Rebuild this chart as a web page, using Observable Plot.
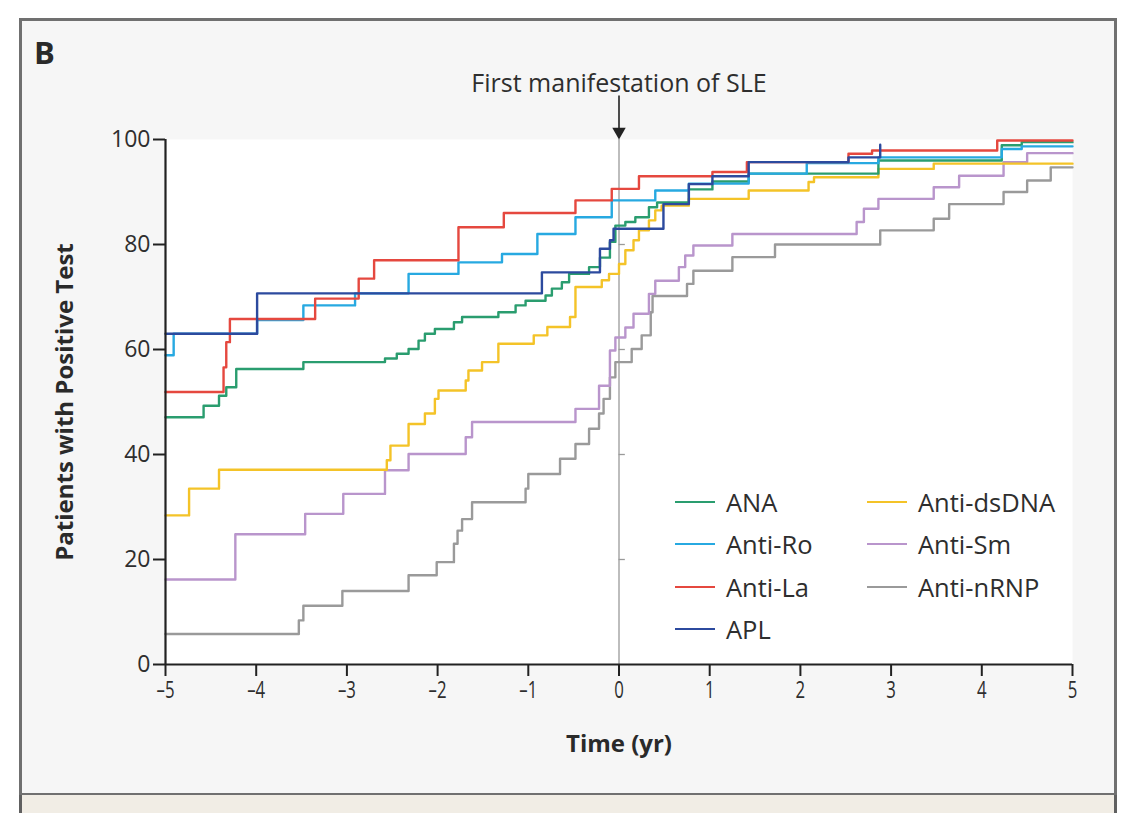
<!DOCTYPE html>
<html><head><meta charset="utf-8">
<script src="https://cdn.jsdelivr.net/npm/d3@7"></script>
<script src="https://cdn.jsdelivr.net/npm/@observablehq/plot@0.6"></script>
<style>
html,body{margin:0;padding:0;background:#fff;}
#wrap{position:relative;width:1125px;height:813px;overflow:hidden;background:#fff;font-family:"Open Sans",sans-serif;color:#333;}
#panel{position:absolute;left:19px;top:18px;width:1098px;height:778px;background:#f6f6f6;border:3px solid #707070;box-sizing:border-box;}
#below{position:absolute;left:19px;top:795px;width:1098px;height:20px;background:#f1ede5;border-left:3px solid #606060;border-right:3px solid #606060;box-sizing:border-box}
#letter{position:absolute;left:34px;top:31px;font:bold 31px "Open Sans",sans-serif;color:#2a2a2a}
#chart{position:absolute;left:0;top:0}
#legend{position:absolute;left:0;top:0;width:1125px;height:813px;pointer-events:none}
.lg{position:absolute;display:flex;align-items:center;font-size:25.5px;color:#2e2e2e;white-space:nowrap}
.lg span.sw{display:inline-block;width:40px;height:0;border-top:2.2px solid;margin-right:11px}
</style></head>
<body>
<div id="wrap">
  <div id="panel"></div>
  <div id="below"></div>
  <div id="letter">B</div>
  <div id="chart"></div>
  <div id="legend"></div>
</div>
<script>
// ---- data (time in years, % of patients positive) ----
const seriesNames = ["ANA","Anti-Ro","Anti-La","APL","Anti-dsDNA","Anti-Sm","Anti-nRNP"];
const seriesColors = ["#2a9d6f","#27a9e1","#e5483f","#2c4a9e","#f4c328","#b995cc","#9a9a9a"];
const xTicks = [-5,-4,-3,-2,-1,0,1,2,3,4,5];
const yTicks = [0,20,40,60,80,100];

const anaT = [-5,-4.58,-4.41,-4.33,-4.22,-3.48,-2.58,-2.45,-2.32,-2.21,-2.14,-2.03,-1.82,-1.73,-1.33,-1.14,-1.03,-0.81,-0.74,-0.63,-0.55,-0.33,-0.21,-0.10,-0.04,0.07,0.18,0.33,0.42,0.77,1.03,1.43,2.86,4.22,4.44,5];
const anaV = [47.1,49.3,51.2,52.8,56.3,57.6,58.3,59.2,60.1,61.7,63,63.9,65.2,66.2,67.1,68.4,69.3,70.3,71.6,72.8,74.4,75.7,77.5,80.5,83.6,84.3,85.2,87.1,88,90.5,92,93.5,96,98.9,99.5,99.5];

const roT = [-5,-4.91,-3.99,-3.48,-2.91,-2.32,-1.77,-1.29,-0.90,-0.48,-0.08,0.40,0.77,1.43,2.07,2.86,4.22,4.44,5];
const roV = [58.9,63,65.6,68.4,70.7,74.4,76.6,78.2,82,85.2,88.4,90.3,91.6,93.5,95.5,96.6,98.2,98.7,98.7];

const laT = [-5,-4.36,-4.33,-4.29,-3.35,-2.87,-2.70,-1.77,-1.27,-0.48,-0.08,0.22,1.03,1.41,2.53,2.79,4.17,5];
const laV = [51.9,56.6,61.4,65.8,69.7,73.5,77,83.3,86,88.4,90.6,93,93.8,95.7,97.3,97.9,99.8,99.8];

const aplT = [-5,-3.99,-0.85,-0.21,-0.10,-0.06,0.49,0.77,1.03,1.43,2.53,2.88];
const aplV = [63,70.7,74.7,79.2,80.8,83,87.7,91.5,93,95.7,96.6,99];

const dsT = [-5,-4.74,-4.41,-2.56,-2.52,-2.32,-2.14,-2.03,-1.99,-1.69,-1.66,-1.51,-1.33,-0.94,-0.79,-0.54,-0.48,-0.19,-0.11,0,0.07,0.16,0.22,0.33,0.40,0.47,0.77,1.43,2.09,2.15,2.86,3.47,5];
const dsV = [28.4,33.5,37.1,38.9,41.7,45.8,47.8,50.6,52.2,54.1,56,57.6,61.1,62.7,64.3,66.2,71.9,73.2,74.4,76.3,78.9,80.8,82.7,84.6,86.5,87.4,88.7,90.3,91.9,92.8,94.4,95.4,95.4];

const smT = [-5,-4.23,-3.46,-3.04,-2.58,-2.32,-1.69,-1.62,-0.48,-0.22,-0.10,-0.04,0.07,0.16,0.33,0.40,0.66,0.73,0.82,1.25,2.62,2.70,2.86,3.47,3.75,4.24,4.50,5];
const smV = [16.2,24.8,28.7,32.5,37,40.1,43.3,46.2,48.7,53.1,59.8,62.3,64.2,66.8,70.6,73.1,75.7,77.9,79.8,82,84.3,86.8,88.7,90.9,93.1,95.7,97.4,97.4];

const nrT = [-5,-3.53,-3.48,-3.05,-2.32,-2.01,-1.82,-1.78,-1.73,-1.62,-1.03,-1.0,-0.65,-0.48,-0.33,-0.22,-0.17,-0.10,-0.04,0.14,0.25,0.35,0.37,0.75,0.82,1.25,1.72,2.88,3.47,3.64,4.24,4.50,4.76,5];
const nrV = [5.8,8.4,11.2,14,17,19.5,23,25.5,27.7,30.9,33.5,36.3,39.2,42,44.9,47.8,50.6,54.7,57.6,60.1,62.7,67.1,70.2,72.5,75,77.6,80,82.7,84.9,87.7,90,92.2,94.7,94.7];

// ---- build table (drawing order: bottom first) ----
const seriesData = [
  ["Anti-nRNP", nrT, nrV], ["Anti-Sm", smT, smV], ["Anti-dsDNA", dsT, dsV],
  ["ANA", anaT, anaV], ["Anti-Ro", roT, roV], ["Anti-La", laT, laV], ["APL", aplT, aplV]
];
const rows = seriesData.flatMap(([name, T, V]) => T.map((t, i) => ({name, t, v: V[i]})));

const fmt = d => d < 0 ? "\u2013" + Math.abs(d) : String(d);

const chart = Plot.plot({
  width: 1125, height: 813,
  marginLeft: 165, marginRight: 53, marginTop: 139, marginBottom: 149,
  x: {domain: [-5, 5]},
  y: {domain: [0, 100]},
  color: {domain: seriesNames, range: seriesColors},
  style: {background: "transparent", fontFamily: "'Open Sans', sans-serif", color: "#333"},
  marks: [
    Plot.frame({fill: "white", stroke: null}),
    Plot.ruleX([0], {stroke: "#9a9a9a", strokeWidth: 1.3}),
    Plot.ruleY([20, 40, 60, 80], {x1: 0, x2: 0.07, stroke: "#9a9a9a", strokeWidth: 1.3}),
    Plot.line(rows, {x: "t", y: "v", z: "name", stroke: "name", curve: "step-after", strokeWidth: 2.4}),
    Plot.ruleY([0], {stroke: "#222", strokeWidth: 2.2}),
    Plot.ruleX([-5], {stroke: "#222", strokeWidth: 2.2}),
    Plot.axisX({ticks: xTicks, tickFormat: fmt, tickSize: 12, tickPadding: 4, fontSize: 24,
      stroke: "#222", strokeWidth: 2, label: null, fill: "#2e2e2e"}),
    Plot.axisY({ticks: yTicks, tickSize: 12, tickPadding: 3, fontSize: 23, stroke: "#222", strokeWidth: 2, label: null, fill: "#2e2e2e"}),
    Plot.text(["Time (yr)"], {frameAnchor: "bottom", dy: 80, lineAnchor: "middle", fontSize: 24, fontWeight: "bold", fill: "#2a2a2a"}),
    Plot.text(["Patients with Positive Test"], {frameAnchor: "left", dx: -100, rotate: -90, lineAnchor: "middle", textAnchor: "middle", fontSize: 24, fontWeight: "bold", fill: "#2a2a2a"}),
    Plot.text(["First manifestation of SLE"], {x: () => 0, frameAnchor: "top", dy: -56, lineAnchor: "middle", fontSize: 25, fill: "#2e2e2e"}),
    Plot.ruleX([0], {y1: 108.3, y2: 102, stroke: "#222", strokeWidth: 1.6}),
    Plot.dot([0], {x: d => d, y: 101.5, symbol: "triangle", rotate: 180, r: 5, fill: "#222", stroke: null})
  ]
});
document.getElementById("chart").appendChild(chart);

// condensed look for x tick labels and x title
const squeeze = (sel, s) => d3.select(chart).selectAll(sel).each(function() {
  const t = this.getAttribute("transform") || "";
  const x = this.getAttribute("x");
  if (x != null && x !== "") this.setAttribute("x", (+x) / s);
  this.setAttribute("transform", (t + ` scale(${s},1)`).trim());
});
squeeze('g[aria-label="x-axis tick label"] text', 0.7);
squeeze('g[aria-label="text"] text', 1);

// ---- legend ----
const legendCols = [["ANA","Anti-Ro","Anti-La","APL"], ["Anti-dsDNA","Anti-Sm","Anti-nRNP"]];
const legendX = [675, 867];
const legendY = [502, 544, 587, 629];
const lg = document.getElementById("legend");
legendCols.forEach((col, ci) => col.forEach((name, ri) => {
  const d = document.createElement("div");
  d.className = "lg";
  d.style.left = legendX[ci] + "px";
  d.style.top = (legendY[ri] - 17) + "px";
  d.style.height = "34px";
  const sw = document.createElement("span");
  sw.className = "sw";
  sw.style.borderTopColor = seriesColors[seriesNames.indexOf(name)];
  d.appendChild(sw);
  d.appendChild(document.createTextNode(name));
  lg.appendChild(d);
}));
</script>
</body></html>
